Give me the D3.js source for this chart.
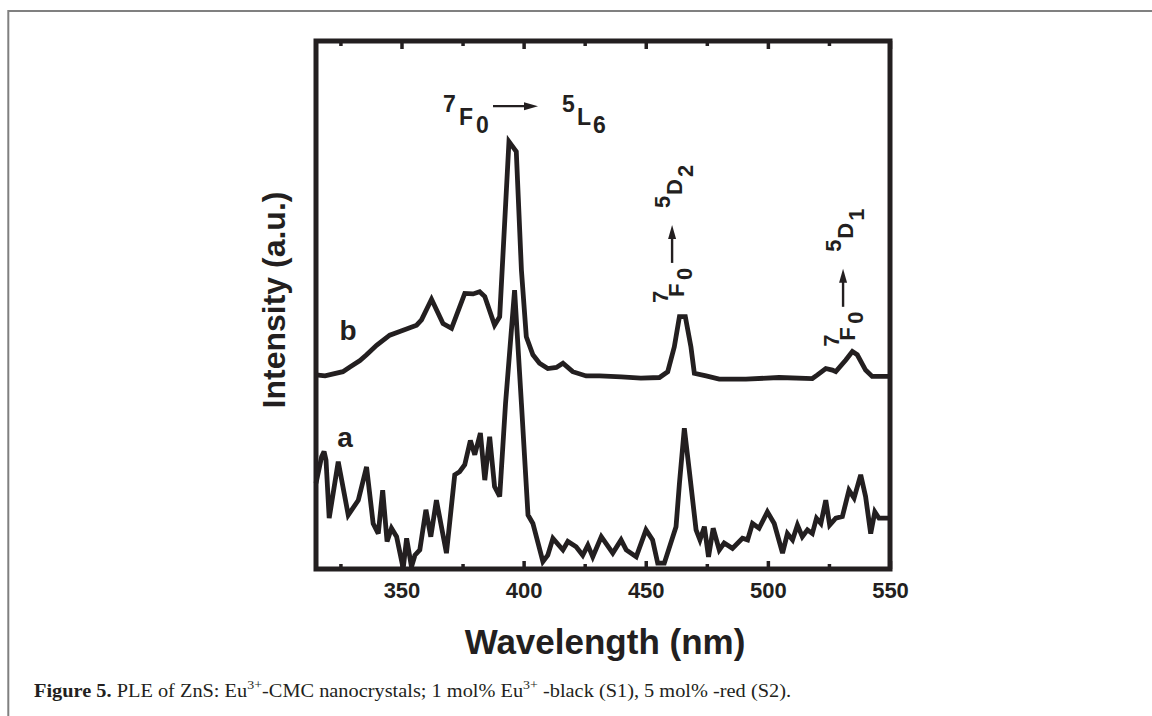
<!DOCTYPE html>
<html>
<head>
<meta charset="utf-8">
<script src="https://cdn.jsdelivr.net/npm/d3@7"></script>
<style>
  html, body { margin: 0; padding: 0; background: #fff; }
  svg { display: block; }
</style>
</head>
<body>
<div id="chart"></div>
<script>
// PLE spectra (arbitrary intensity, 0-100)
const wavelengthA = [315, 317.3, 318.3, 319.1, 320.4, 324.1, 328.2, 332.3, 335.7, 338.4,
  340.5, 342.3, 344.1, 345.9, 348.0, 350.7, 352.1, 354.1, 355.5, 357.5,
  360.0, 362.0, 364.3, 368.4, 371.8, 373.8, 375.9, 378.2, 380.0, 382.3,
  384.1, 386.1, 388.1, 390.2, 392.6, 396.3, 399.1, 401.8, 403.8, 407.9,
  409.9, 412.0, 416.1, 418.1, 421.5, 424.2, 426.3, 428.3, 431.8, 436.5,
  439.9, 442.0, 446.1, 450.1, 452.8, 454.9, 457.6, 462.4, 463.8, 465.8,
  467.8, 470.6, 472.2, 474.0, 475.7, 477.6, 480.1, 482.1, 485.5, 489.6,
  491.7, 493.7, 496.4, 499.8, 502.6, 506.0, 508.0, 510.1, 512.1, 514.1,
  516.2, 518.2, 519.9, 521.7, 523.7, 525.3, 527.8, 530.5, 533.2, 535.3,
  538.0, 540.0, 542.1, 543.8, 545.5, 548.2, 550];
const intensityA = [16.2, 21.2, 22.2, 20.6, 9.6, 20.3, 10.2, 13.0, 19.3, 8.6,
  6.7, 14.9, 5.2, 7.7, 6.1, 0.1, 5.8, 0.4, 2.6, 3.6,
  11.2, 6.1, 13.0, 3.0, 17.8, 18.4, 19.7, 24.3, 21.6, 25.7,
  16.8, 25.0, 15.6, 13.7, 31.3, 52.7, 31.3, 10.2, 8.6, 1.4,
  2.6, 5.8, 3.6, 5.2, 4.2, 2.6, 4.5, 2.3, 6.1, 3.0,
  5.5, 3.6, 2.3, 7.4, 5.5, 1.1, 1.1, 8.0, 16.2, 26.6,
  18.7, 7.4, 5.5, 8.0, 2.3, 7.7, 3.6, 4.9, 3.9, 5.8,
  5.5, 8.6, 7.7, 10.8, 8.6, 3.0, 6.7, 5.5, 8.3, 6.1,
  7.4, 6.7, 9.6, 8.6, 13.0, 8.3, 9.6, 9.9, 14.9, 13.4,
  17.8, 13.7, 6.7, 10.8, 9.6, 9.6, 9.6];

const wavelengthB = [315, 318.7, 326.0, 328.9, 333.0, 335.7, 339.8, 345.2, 349.3, 356.2,
  358.2, 362.3, 367.0, 370.5, 375.9, 379.3, 382.0, 384.1, 388.1, 390.2,
  394.0, 397.0, 399.1, 401.1, 403.8, 406.5, 409.9, 413.4, 416.1, 420.1,
  425.6, 431.1, 440, 448, 455.6, 459.0, 461.7, 463.8, 466.2, 468.5,
  469.9, 474.7, 480.1, 491.0, 504.6, 518.2, 520.3, 523.7, 526.4, 527.8,
  531.9, 534.6, 536.6, 540.0, 542.7, 548.2, 550];
const intensityB = [36.7, 36.5, 37.3, 38.2, 39.4, 40.5, 42.3, 44.2, 44.9, 46.1,
  47.1, 51.0, 46.4, 45.5, 52.1, 52.0, 52.4, 51.5, 46.1, 47.7,
  80.8, 78.9, 56.5, 43.9, 40.5, 38.9, 37.9, 38.1, 38.9, 37.3,
  36.5, 36.5, 36.3, 36.1, 36.2, 37.3, 42.0, 47.7, 47.7, 42.0,
  37.0, 36.5, 35.9, 35.9, 36.2, 36.0, 36.7, 37.9, 37.6, 37.3,
  39.5, 41.1, 40.5, 37.6, 36.4, 36.4, 36.4];

const curveNames = ["a", "b"];
const xMajorTicks = [350, 400, 450, 500, 550];
const xMinorTicks = [325, 375, 425, 475, 525];
const xDomain = [315, 550];
const yDomain = [0, 100];

const transitionFrom = ["7", "F", "0"];
const transitionTo = [["5", "L", "6"], ["5", "D", "2"], ["5", "D", "1"]];
const xTitle = "Wavelength (nm)";
const yTitle = "Intensity (a.u.)";

class PleChart {
  constructor() {
    this.width = 1152;
    this.height = 716;
    this.plot = { left: 316, right: 890, top: 41, bottom: 569 };
    this.colors = { ink: "#231f20", border: "#808080" };
    this.sans = "'Liberation Sans', Arial, Helvetica, sans-serif";
    this.serif = "'Liberation Serif', 'Times New Roman', serif";
  }

  drawChart() {
    const p = this.plot;
    const ink = this.colors.ink;

    const svg = d3
      .select("#chart")
      .append("svg")
      .attr("width", this.width)
      .attr("height", this.height);

    // page border (left + top)
    svg
      .append("path")
      .attr("d", `M8.3,${this.height} V11 H${this.width}`)
      .attr("fill", "none")
      .attr("stroke", this.colors.border)
      .attr("stroke-width", 2);

    const x = d3.scaleLinear().domain(xDomain).range([p.left, p.right]);
    const y = d3.scaleLinear().domain(yDomain).range([p.bottom, 40]);

    // Bottom axis, ticks pointing in
    const bottomMajor = svg
      .append("g")
      .attr("transform", `translate(0,${p.bottom})`)
      .call(
        d3.axisBottom(x).tickValues(xMajorTicks).tickSize(-8).tickPadding(13).tickFormat(d3.format("d")),
      );
    const bottomMinor = svg
      .append("g")
      .attr("transform", `translate(0,${p.bottom})`)
      .call(d3.axisBottom(x).tickValues(xMinorTicks).tickSize(-5).tickFormat(""));

    // Top axis, ticks only
    const topMajor = svg
      .append("g")
      .attr("transform", `translate(0,${p.top})`)
      .call(d3.axisTop(x).tickValues(xMajorTicks).tickSize(-8).tickFormat(""));
    const topMinor = svg
      .append("g")
      .attr("transform", `translate(0,${p.top})`)
      .call(d3.axisTop(x).tickValues(xMinorTicks).tickSize(-5).tickFormat(""));

    [bottomMajor, bottomMinor, topMajor, topMinor].forEach((g) => {
      g.select(".domain").remove();
      g.selectAll(".tick line").attr("stroke", ink).attr("stroke-width", 3.5);
    });

    bottomMajor
      .selectAll(".tick text")
      .attr("font-family", this.sans)
      .attr("font-size", 22)
      .attr("font-weight", "bold")
      .attr("fill", ink);

    // Spectra
    const line = d3
      .line()
      .x((d) => x(d[0]))
      .y((d) => y(d[1]));

    const series = [d3.zip(wavelengthA, intensityA), d3.zip(wavelengthB, intensityB)];
    series.forEach((data) => {
      svg
        .append("path")
        .datum(data)
        .attr("fill", "none")
        .attr("stroke", ink)
        .attr("stroke-width", 4.8)
        .attr("stroke-linejoin", "miter")
        .attr("stroke-miterlimit", 3)
        .attr("d", line);
    });

    // Frame
    svg
      .append("rect")
      .attr("x", p.left)
      .attr("y", p.top)
      .attr("width", p.right - p.left)
      .attr("height", p.bottom - p.top)
      .attr("fill", "none")
      .attr("stroke", ink)
      .attr("stroke-width", 5);

    // Curve names
    const namePos = [[326.9, 23.1], [328.1, 43.3]];
    curveNames.forEach((name, i) => {
      svg
        .append("text")
        .attr("x", x(namePos[i][0]))
        .attr("y", y(namePos[i][1]))
        .attr("text-anchor", "middle")
        .attr("font-family", this.sans)
        .attr("font-weight", "bold")
        .attr("font-size", 28)
        .attr("fill", ink)
        .text(name);
    });

    // Transition labels
    this.drawTransition(svg, x(367.0), y(83.9), 0, transitionTo[0], 23);
    this.drawTransition(svg, x(465.7), y(50.3), -90, transitionTo[1], 22);
    this.drawTransition(svg, x(535.7), y(42.0), -90, transitionTo[2], 22);

    // Axis titles
    svg
      .append("text")
      .attr("transform", `translate(285,300) rotate(-90)`)
      .attr("text-anchor", "middle")
      .attr("font-family", this.sans)
      .attr("font-weight", "bold")
      .attr("font-size", 32)
      .attr("fill", ink)
      .text(yTitle);

    svg
      .append("text")
      .attr("x", (p.left + p.right) / 2 + 2)
      .attr("y", 654)
      .attr("text-anchor", "middle")
      .attr("font-family", this.sans)
      .attr("font-weight", "bold")
      .attr("font-size", 35)
      .attr("fill", ink)
      .text(xTitle);

    // Caption
    const cap = svg
      .append("text")
      .attr("x", 34)
      .attr("y", 697)
      .attr("font-family", this.serif)
      .attr("font-size", 19)
      .attr("textLength", 757)
      .attr("lengthAdjust", "spacingAndGlyphs")
      .attr("fill", "#231f20");
    cap.append("tspan").attr("font-weight", "bold").text("Figure 5.");
    cap.append("tspan").text(" PLE of ZnS: Eu");
    cap.append("tspan").attr("dy", -8).attr("font-size", 13).text("3+");
    cap.append("tspan").attr("dy", 8).text("-CMC nanocrystals; 1 mol% Eu");
    cap.append("tspan").attr("dy", -8).attr("font-size", 13).text("3+");
    cap.append("tspan").attr("dy", 8).text(" -black (S1), 5 mol% -red (S2).");
  }

  // term symbols + arrow, laid out along the local x axis
  drawTransition(svg, ax, ay, angle, to, size) {
    const ink = this.colors.ink;
    const g = svg.append("g").attr("transform", `translate(${ax},${ay}) rotate(${angle})`);
    const vertical = angle !== 0;
    const layout = vertical
      ? { from: [[0, -16], [6, 0], [23, 8]], arrow: [40, 78, -12], to: [[95, -14], [108, -2], [126, 9]] }
      : { from: [[0, -13], [16, 0], [33, 8]], arrow: [50, 95, -19], to: [[119, -13], [134, 0], [150, 8]] };

    const put = (chars, pos) => {
      chars.forEach((c, i) => {
        g.append("text")
          .attr("x", pos[i][0])
          .attr("y", pos[i][1])
          .attr("font-family", this.sans)
          .attr("font-weight", "bold")
          .attr("font-size", size)
          .attr("fill", ink)
          .text(c);
      });
    };
    put(transitionFrom, layout.from);
    put(to, layout.to);

    const [x1, x2, yy] = layout.arrow;
    g.append("line")
      .attr("x1", x1)
      .attr("x2", x2 - 10)
      .attr("y1", yy)
      .attr("y2", yy)
      .attr("stroke", ink)
      .attr("stroke-width", 2.4);
    g.append("path")
      .attr("d", d3.line()([[x2 - 14, yy - 4], [x2, yy], [x2 - 14, yy + 4]]) + "Z")
      .attr("fill", ink);
  }
}

const chart = new PleChart();
chart.drawChart();
</script>
</body>
</html>
